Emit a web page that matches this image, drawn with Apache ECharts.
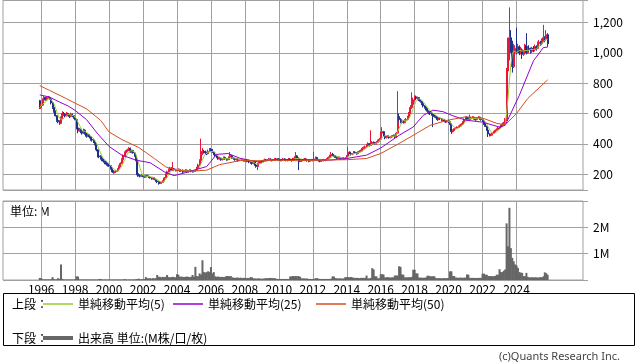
<!DOCTYPE html>
<html><head><meta charset="utf-8">
<script src="https://cdn.jsdelivr.net/npm/echarts@6/dist/echarts.min.js"></script>
<style>html,body{margin:0;padding:0;background:#fff}#c{width:638px;height:362px}</style>
</head><body><div id="c"></div>
<script>
// Monthly data, first month 1995-12
const firstMonth = '1995-12';
const open = [685,
640,655,690,705,690,700,705,695,670,640,615,585,
555,545,535,570,600,595,585,600,590,580,595,585,
575,560,505,485,495,480,470,490,470,450,460,445,
430,425,415,400,360,320,315,305,295,285,275,265,
260,255,235,220,210,215,220,235,250,270,295,320,
340,350,360,370,345,355,340,320,290,195,190,185,
190,185,180,190,185,180,175,170,175,165,155,150,
145,140,145,155,175,200,215,230,240,225,235,230,
225,225,230,220,225,215,220,225,215,220,225,220,
218,220,225,240,260,290,330,350,345,340,335,350,
362,360,345,330,320,310,300,305,295,300,310,300,
295,300,315,320,305,300,295,300,290,295,300,295,
290,295,285,290,280,275,270,280,260,250,270,275,
280,285,290,295,290,295,300,295,290,295,300,295,
300,295,290,295,300,295,290,295,300,295,290,300,
305,320,305,290,285,290,295,300,295,290,285,290,
295,290,300,310,295,290,285,290,295,290,295,300,
310,320,330,325,320,310,305,310,305,300,305,300,
305,320,345,335,330,335,345,340,335,345,350,355,
370,375,380,395,400,390,395,410,405,400,410,420,
430,470,480,450,440,445,450,440,445,450,455,445,
470,580,560,545,550,540,555,560,575,600,640,660,
690,710,700,705,690,680,665,650,640,630,615,605,
600,595,590,580,575,560,570,565,555,560,550,545,
550,545,530,480,490,500,505,510,515,520,530,545,
560,575,570,560,565,570,575,565,560,570,575,565,
560,550,530,515,490,465,455,460,470,480,490,495,
505,510,520,530,535,560,880,1000,1100,1060,910,1000,
1030,1010,1040,1000,1020,990,1010,1050,1000,1030,1020,1010,
1030,1020,1040,1030,1060,1070,1060,1080,1100,1090,1120];
const close = [640,
655,690,705,690,700,705,695,670,640,615,585,555,
545,535,570,600,595,585,600,590,580,595,585,575,
560,505,485,495,480,470,490,470,450,460,445,430,
425,415,400,360,320,315,305,295,285,275,265,260,
255,235,220,210,215,220,235,250,270,295,320,340,
350,360,370,345,355,340,320,290,195,190,185,190,
185,180,190,185,180,175,170,175,165,155,150,145,
140,145,155,175,200,215,230,240,225,235,230,225,
225,230,220,225,215,220,225,215,220,225,220,218,
220,225,240,260,290,330,350,345,340,335,350,360,
360,345,330,320,310,300,305,295,300,310,300,295,
300,315,320,305,300,295,300,290,295,300,295,290,
295,285,290,280,275,270,280,260,250,270,275,280,
285,290,295,290,295,300,295,290,295,300,295,300,
295,290,295,300,295,290,295,300,295,290,300,305,
320,305,290,285,290,295,300,295,290,285,290,295,
290,300,310,295,290,285,290,295,290,295,300,310,
320,330,325,320,310,305,310,305,300,305,300,305,
320,345,335,330,335,345,340,335,345,350,355,370,
375,380,395,400,390,395,410,405,400,410,420,430,
470,480,450,440,445,450,440,445,450,455,445,470,
580,560,545,550,540,555,560,575,600,640,660,690,
710,700,705,690,680,665,650,640,630,615,605,600,
595,590,580,575,560,570,565,555,560,550,545,550,
545,530,480,490,500,505,510,515,520,530,545,560,
575,570,560,565,570,575,565,560,570,575,565,560,
550,530,515,490,465,455,460,470,480,490,495,505,
510,520,530,535,560,880,1000,1100,1060,910,1000,1030,
1010,1040,1000,1020,990,1010,1050,1000,1030,1020,1010,1030,
1020,1040,1030,1060,1070,1060,1080,1100,1090,1120,1060];
const high = [690,
665,700,715,710,710,715,712,700,675,645,620,590,
565,555,580,615,610,600,610,605,595,605,600,590,
585,565,515,505,500,490,500,495,475,470,465,450,
440,430,420,405,365,330,325,315,300,290,285,275,
270,260,240,225,222,228,240,258,278,305,330,350,
358,368,378,375,362,360,345,325,295,205,198,198,
198,192,196,195,190,186,180,182,178,170,160,155,
150,150,160,180,205,222,238,248,245,280,240,235,
235,238,235,232,230,226,232,230,226,232,230,226,
228,232,248,268,298,434,372,360,355,348,362,372,
372,366,350,338,325,315,312,310,305,316,315,305,
305,346,328,325,310,305,305,305,300,305,305,300,
300,300,295,295,285,280,285,285,265,275,282,285,
292,296,302,300,300,306,305,300,300,306,305,306,
306,300,300,306,305,300,300,306,305,300,308,318,
346,325,310,295,296,300,306,305,300,295,296,300,
300,346,316,314,300,295,295,300,300,300,306,316,
328,346,340,330,325,316,316,315,310,312,310,312,
325,379,350,342,340,352,350,345,350,358,362,378,
382,388,400,410,405,489,418,415,410,418,428,438,
480,510,485,455,452,458,455,450,456,462,460,478,
747,600,570,558,556,562,570,585,610,655,740,705,
720,718,712,708,695,685,670,655,645,635,620,610,
608,600,595,588,580,575,575,570,565,565,555,555,
558,552,535,495,505,510,515,520,526,536,550,568,
580,580,575,593,578,582,580,570,575,582,580,570,
565,555,535,520,495,470,465,475,485,495,502,512,
515,528,540,545,570,900,1100,1300,1150,1080,1060,1050,
1167,1060,1050,1040,1030,1020,1060,1130,1045,1050,1035,1040,
1045,1055,1050,1075,1085,1080,1095,1185,1110,1150,1130];
const low = [630,
630,650,685,685,685,695,690,660,630,605,580,545,
535,525,530,565,585,575,580,585,570,575,575,565,
555,495,470,480,470,460,465,460,440,445,435,420,
415,405,390,350,310,305,295,285,275,265,255,250,
248,230,212,203,205,210,215,230,245,265,290,315,
330,345,352,340,338,335,315,285,182,185,178,180,
180,175,176,180,174,170,163,165,160,150,140,130,
135,136,142,152,172,196,210,225,220,220,225,218,
218,220,215,215,208,210,215,208,210,215,212,210,
210,215,220,235,255,285,325,335,330,325,330,345,
350,340,325,315,305,295,295,288,290,295,295,288,
290,295,310,300,295,288,290,282,285,290,288,282,
282,278,280,272,268,262,265,255,242,226,262,270,
272,278,285,284,285,290,288,283,286,290,288,290,
288,284,284,290,288,284,284,290,288,282,286,295,
300,300,226,278,280,285,290,288,282,278,280,285,
284,286,295,290,282,278,280,285,284,285,290,296,
305,315,318,312,305,298,300,298,294,296,294,296,
300,315,330,322,325,330,335,328,330,340,345,350,
362,368,375,390,382,385,390,398,392,395,405,415,
425,462,445,430,435,440,434,436,440,445,438,440,
465,550,535,538,533,535,548,555,570,595,630,655,
680,690,690,682,672,655,640,632,620,605,595,590,
585,510,572,568,552,555,558,548,550,542,538,540,
538,525,465,475,485,495,500,505,510,515,525,540,
555,562,552,556,560,565,560,552,555,565,558,552,
545,525,510,485,445,448,450,455,465,475,485,495,
498,505,515,525,525,550,860,950,1000,870,900,980,
990,1000,985,990,960,980,1000,990,995,1010,995,1000,
1005,1010,1015,1025,1050,1045,1050,1070,1070,1080,1040];
// volume, millions of shares
const volume = [0.08,
0.07,0.03,0.02,0.03,0.02,0.03,0.02,0.03,0.11,0.04,0.02,0.03,
0.07,0.04,0.59,0.04,0.02,0.02,0.02,0.02,0.02,0.02,0.02,0.02,
0.03,0.14,0.13,0.03,0.02,0.02,0.02,0.02,0.02,0.02,0.02,0.02,
0.02,0.02,0.02,0.02,0.02,0.04,0.04,0.02,0.02,0.02,0.02,0.02,
0.02,0.02,0.02,0.02,0.02,0.02,0.02,0.02,0.02,0.02,0.02,0.04,
0.02,0.02,0.02,0.02,0.02,0.02,0.02,0.03,0.04,0.05,0.03,0.03,
0.03,0.04,0.11,0.07,0.06,0.07,0.05,0.07,0.06,0.07,0.19,0.12,
0.12,0.10,0.12,0.11,0.12,0.19,0.11,0.10,0.11,0.12,0.11,0.10,
0.22,0.20,0.12,0.13,0.12,0.11,0.12,0.13,0.12,0.11,0.12,0.19,
0.12,0.50,0.15,0.14,0.25,0.20,0.75,0.30,0.28,0.30,0.33,0.30,
0.49,0.25,0.30,0.14,0.12,0.13,0.12,0.11,0.12,0.11,0.12,0.15,
0.15,0.14,0.15,0.10,0.09,0.08,0.09,0.09,0.08,0.09,0.07,0.08,
0.08,0.07,0.08,0.07,0.11,0.10,0.06,0.06,0.05,0.06,0.06,0.05,
0.05,0.05,0.06,0.07,0.07,0.07,0.08,0.07,0.07,0.07,0.05,0.04,
0.04,0.04,0.04,0.04,0.04,0.04,0.04,0.04,0.13,0.14,0.15,0.14,
0.15,0.14,0.15,0.12,0.06,0.06,0.06,0.05,0.06,0.04,0.04,0.04,
0.04,0.04,0.07,0.07,0.05,0.04,0.04,0.04,0.04,0.04,0.04,0.04,
0.04,0.05,0.14,0.13,0.07,0.06,0.06,0.06,0.06,0.05,0.06,0.11,
0.11,0.11,0.10,0.11,0.10,0.08,0.08,0.08,0.08,0.07,0.08,0.08,
0.08,0.08,0.17,0.06,0.06,0.08,0.45,0.40,0.14,0.14,0.06,0.07,
0.22,0.22,0.21,0.10,0.10,0.11,0.10,0.09,0.10,0.10,0.17,0.17,
0.17,0.52,0.50,0.21,0.20,0.10,0.10,0.10,0.10,0.10,0.12,0.39,
0.39,0.25,0.25,0.09,0.09,0.09,0.08,0.09,0.09,0.16,0.16,0.14,
0.14,0.14,0.14,0.07,0.07,0.07,0.07,0.06,0.07,0.07,0.07,0.07,
0.07,0.33,0.33,0.15,0.15,0.09,0.09,0.08,0.09,0.09,0.08,0.09,
0.09,0.21,0.20,0.08,0.08,0.08,0.08,0.07,0.08,0.08,0.08,0.08,
0.24,0.24,0.20,0.20,0.15,0.15,0.15,0.14,0.15,0.15,0.20,0.20,
0.41,0.30,0.30,0.35,0.40,2.15,1.28,2.74,1.21,0.84,0.71,0.59,
0.55,0.46,0.30,0.28,0.27,0.15,0.14,0.27,0.12,0.10,0.10,0.10,
0.10,0.10,0.10,0.09,0.10,0.11,0.10,0.14,0.29,0.26,0.20];
// moving averages (month, value)
const ma25Points = [['1995-12',723],['1996-07',708],['1997-02',675],['1997-08',650],['1998-01',620],['1998-09',560],['1999-05',465],['2000-01',382],['2000-10',325],['2001-08',292],['2002-06',275],['2003-04',215],['2003-11',190],['2004-08',212],['2005-10',250],['2006-05',330],['2007-01',336],['2007-10',303],['2008-10',281],['2009-10',296],['2011-01',296],['2013-01',292],['2014-01',303],['2015-03',325],['2016-01',372],['2017-02',456],['2017-12',511],['2018-07',587],['2019-02',622],['2019-09',612],['2020-04',585],['2021-01',556],['2022-01',543],['2023-01',510],['2023-05',522],['2024-03',720],['2025-01',948],['2025-08',1035],['2025-11',1038]];
const ma50Points = [['1995-12',784],['1996-07',752],['1997-07',697],['1998-01',668],['1998-09',631],['1999-07',555],['2000-01',478],['2000-10',428],['2001-10',375],['2002-09',303],['2003-05',248],['2003-12',226],['2004-09',218],['2005-10',226],['2006-07',262],['2007-10',290],['2009-01',288],['2010-01',292],['2011-03',288],['2012-06',292],['2014-01',295],['2015-03',303],['2016-01',336],['2017-02',402],['2018-04',478],['2018-12',522],['2019-12',555],['2021-01',578],['2022-01',570],['2022-11',535],['2023-05',525],['2024-01',600],['2024-09',700],['2025-11',822]];
const seriesNames = ['単純移動平均(5)','単純移動平均(25)','単純移動平均(50)','出来高 単位:(M株/口/枚)'];

const cats = [];
for (let y = 1993; y <= 2027; y++) for (let m = 1; m <= 12; m++) {
  if (y === 1993 && m < 10) continue;
  cats.push(y + '-' + String(m).padStart(2, '0'));
}
const s0 = cats.indexOf(firstMonth);
const n = close.length;
const candle = cats.map((c, i) => { const k = i - s0; return (k >= 0 && k < n) ? [open[k], close[k], low[k], high[k]] : '-'; });
const vol = cats.map((c, i) => { const k = i - s0; return (k >= 0 && k < n) ? volume[k] : '-'; });
const ma5 = cats.map((c, i) => { const k = i - s0; if (k < 0 || k >= n) return '-'; let s = 0, c2 = 0; for (let j = Math.max(0, k - 4); j <= k; j++) { s += close[j]; c2++; } return +(s / c2).toFixed(1); });

const isGridMonth = (v) => { const [y, m] = v.split('-'); return m === '01' && (+y) % 2 === 0 && +y >= 1996 && +y <= 2024; };
const FONT = "'Noto Sans CJK JP', sans-serif";
const GRID = '#a0a0a0';

const chart = echarts.init(document.getElementById('c'), null, { renderer: 'canvas' });
const legendBase = { padding: 0, itemWidth: 30, icon: 'rect', selectedMode: false, itemGap: 0,
  textStyle: { fontFamily: FONT, fontSize: 12, color: '#000', lineHeight: 14 } };
chart.setOption({
  animation: false,
  backgroundColor: '#fff',
  textStyle: { fontFamily: FONT },
  grid: [
    { left: 3, right: 55, top: -1, height: 191, show: true, borderColor: GRID, borderWidth: 1 },
    { left: 3, right: 55, top: 201, height: 79, show: true, borderColor: GRID, borderWidth: 1 }
  ],
  xAxis: [
    { type: 'category', gridIndex: 0, data: cats, boundaryGap: false,
      axisLine: { show: false }, axisTick: { show: false }, axisLabel: { show: false },
      splitLine: { show: true, interval: (i, v) => isGridMonth(v), lineStyle: { color: GRID, width: 1 } } },
    { type: 'category', gridIndex: 1, data: cats, boundaryGap: false,
      axisLine: { show: false }, axisTick: { show: false },
      axisLabel: { show: true, interval: (i, v) => isGridMonth(v), formatter: v => v.slice(0, 4),
        fontFamily: FONT, fontSize: 12, color: '#000', margin: 3 },
      splitLine: { show: true, interval: (i, v) => isGridMonth(v), lineStyle: { color: GRID, width: 1 } } }
  ],
  yAxis: [
    { type: 'value', gridIndex: 0, position: 'right', min: 95, max: 1349, splitNumber: 6, scale: true,
      axisLine: { show: false },
      axisTick: { show: true, length: 5, lineStyle: { color: GRID } },
      axisLabel: { margin: 10, fontFamily: FONT, fontSize: 12, color: '#000',
        formatter: v => (v % 200 === 0 ? v.toLocaleString('en-US') : '') },
      splitLine: { show: true, lineStyle: { color: GRID, width: 1 } } },
    { type: 'value', gridIndex: 1, position: 'right', min: 0, max: 3, interval: 1,
      axisLine: { show: false },
      axisTick: { show: true, length: 5, lineStyle: { color: GRID } },
      axisLabel: { margin: 10, fontFamily: FONT, fontSize: 12, color: '#000',
        formatter: v => (v === 1 || v === 2) ? v + 'M' : '' },
      splitLine: { show: true, lineStyle: { color: GRID, width: 1 } } }
  ],
  legend: [
    Object.assign({}, legendBase, { data: [seriesNames[0]], left: 43, top: 297, itemHeight: 1.5 }),
    Object.assign({}, legendBase, { data: [seriesNames[1]], left: 173, top: 297, itemHeight: 1.5 }),
    Object.assign({}, legendBase, { data: [seriesNames[2]], left: 316, top: 297, itemHeight: 1.5 }),
    Object.assign({}, legendBase, { data: [seriesNames[3]], left: 43, top: 331, itemHeight: 4 })
  ],
  graphic: [
    { type: 'rect', shape: { x: 3.5, y: 293.5, width: 631, height: 52 }, style: { fill: 'none', stroke: '#000', lineWidth: 1 } },
    { type: 'text', x: 12, y: 304, style: { text: '上段：', font: "12px 'Noto Sans CJK JP'", fill: '#000', verticalAlign: 'middle' } },
    { type: 'text', x: 12, y: 338, style: { text: '下段：', font: "12px 'Noto Sans CJK JP'", fill: '#000', verticalAlign: 'middle' } },
    { type: 'text', x: 10, y: 211, style: { text: '単位: M', font: "12px 'Noto Sans CJK JP'", fill: '#000', verticalAlign: 'middle' } },
    { type: 'text', x: 620, y: 357, style: { text: '(c)Quants Research Inc.', font: "11px 'Noto Sans'", fill: '#444', align: 'right', verticalAlign: 'middle' } }
  ],
  series: [
    { type: 'candlestick', name: 'price', xAxisIndex: 0, yAxisIndex: 0, data: candle, barWidth: 1.5,
      itemStyle: { color: '#e8153c', color0: '#1c2f8a', borderColor: '#e8153c', borderColor0: '#1c2f8a', borderWidth: 1 } },
    { type: 'line', name: seriesNames[0], xAxisIndex: 0, yAxisIndex: 0, data: ma5, showSymbol: false, symbol: 'none',
      lineStyle: { color: '#9acd32', width: 1 }, itemStyle: { color: '#9acd32' } },
    { type: 'line', name: seriesNames[1], xAxisIndex: 0, yAxisIndex: 0, data: ma25Points, showSymbol: false, symbol: 'none',
      lineStyle: { color: '#9400d3', width: 1 }, itemStyle: { color: '#9400d3' } },
    { type: 'line', name: seriesNames[2], xAxisIndex: 0, yAxisIndex: 0, data: ma50Points, showSymbol: false, symbol: 'none',
      lineStyle: { color: '#d2501e', width: 1 }, itemStyle: { color: '#d2501e' } },
    { type: 'bar', name: seriesNames[3], xAxisIndex: 1, yAxisIndex: 1, data: vol, barWidth: 2,
      itemStyle: { color: '#666' } }
  ]
});
</script></body></html>
